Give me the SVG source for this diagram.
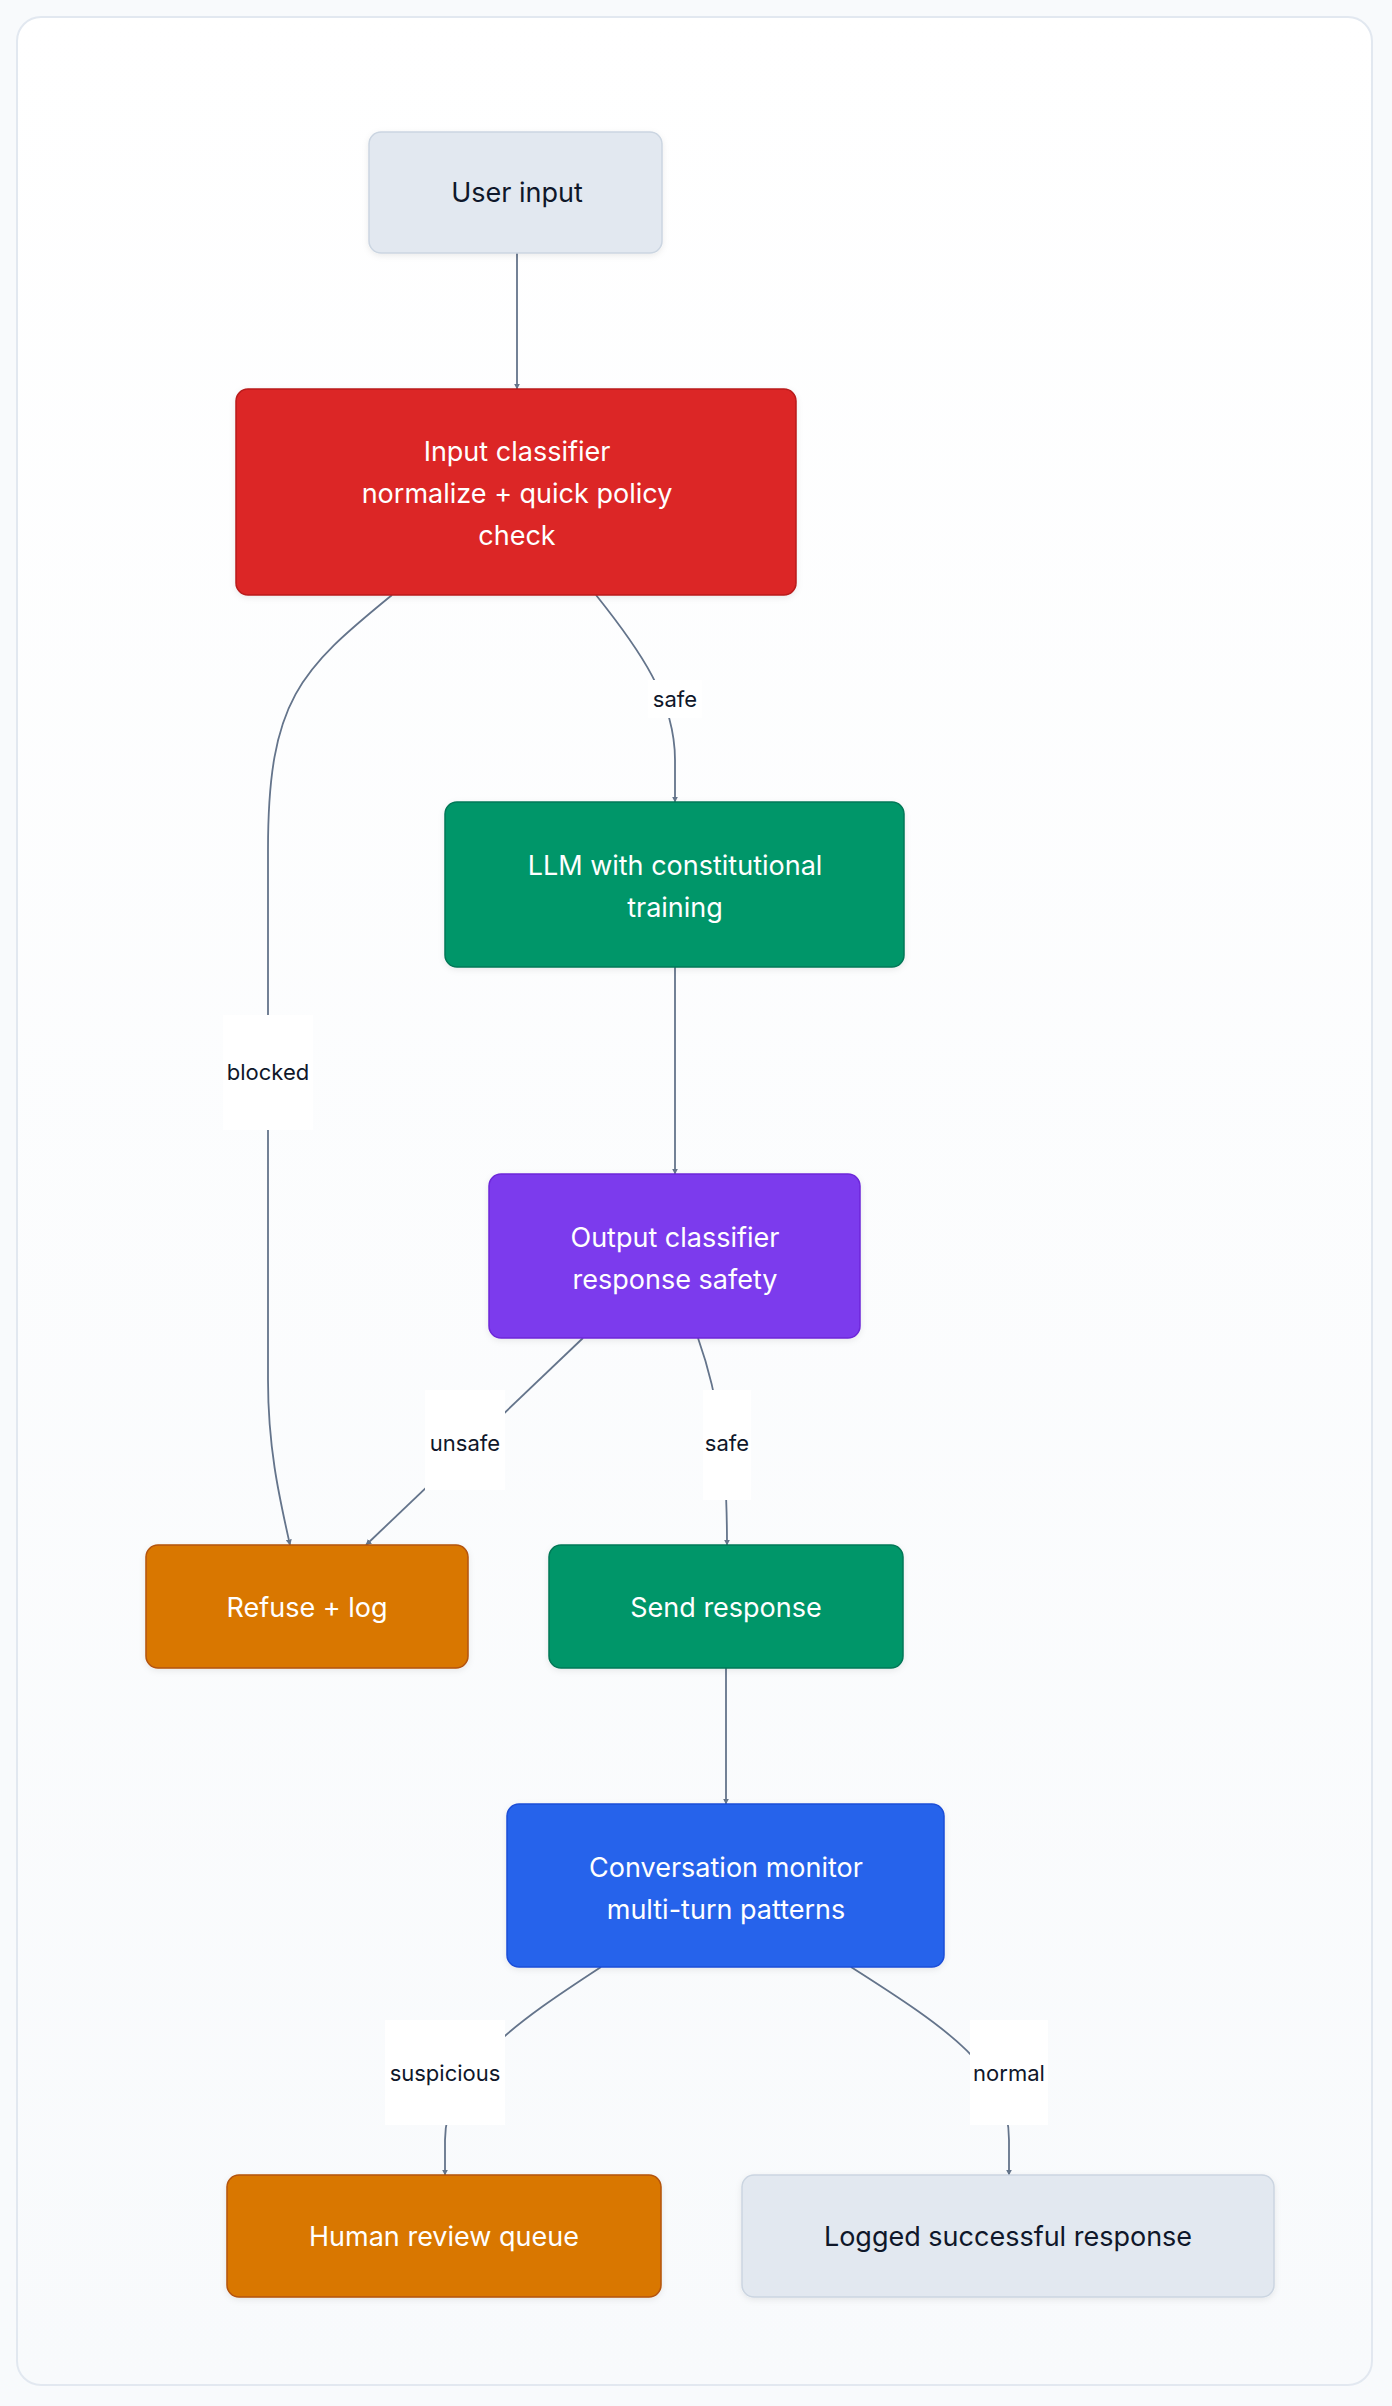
<svg xmlns="http://www.w3.org/2000/svg" width="1392" height="2406" viewBox="0 0 1392 2406">
<defs>
<linearGradient id="bg" x1="0" y1="0" x2="0" y2="1"><stop offset="0" stop-color="#ffffff"/><stop offset="1" stop-color="#f8fafc"/></linearGradient>
<marker id="ah" viewBox="0 0 10 10" refX="9" refY="5" markerWidth="6" markerHeight="6" markerUnits="userSpaceOnUse" orient="auto"><path d="M0,0 L10,5 L0,10 z" fill="#64748b"/></marker>
<filter id="sh" x="-10%" y="-10%" width="120%" height="130%"><feDropShadow dx="0" dy="2" stdDeviation="3" flood-color="#0f172a" flood-opacity="0.08"/></filter>
</defs>
<style>
.n{stroke-width:1.5;filter:url(#sh)}
.t{font-family:Inter,"Liberation Sans",sans-serif;font-size:27px;fill:#ffffff;text-anchor:middle}
.d{fill:#0f172a}
.e{fill:none;stroke:#64748b;stroke-width:1.8;marker-end:url(#ah)}
.l{font-family:Inter,"Liberation Sans",sans-serif;font-size:22px;fill:#0f172a;text-anchor:middle}
.lb{fill:#ffffff}
</style>
<rect x="0" y="0" width="1392" height="2406" fill="#f8fafc"/>
<rect x="17" y="17" width="1355" height="2368" rx="24" fill="url(#bg)" stroke="#e2e8f0" stroke-width="2"/>
<g id="edges">
<path class="e" d="M517,253 L517,389" style="marker-end:url(#ah)"/>
<path class="e" d="M596,595 C640,650 675,700 675,760 L675,802"/>
<path class="e" d="M392,595 C300,670 268,700 268,850 L268,1380 C268,1450 280,1500 290,1545"/>
<path class="e" d="M675,967 L675,1174"/>
<path class="e" d="M583,1338 L366,1545"/>
<path class="e" d="M698,1338 C720,1400 727,1460 727,1545"/>
<path class="e" d="M726,1668 L726,1804"/>
<path class="e" d="M601,1967 C520,2020 445,2070 445,2140 L445,2175"/>
<path class="e" d="M851,1967 C950,2030 1009,2070 1009,2140 L1009,2175"/>
<rect class="lb" x="648" y="680" width="54" height="38"/><text class="l" x="675" y="707">safe</text>
<rect class="lb" x="223" y="1015" width="90" height="115"/><text class="l" x="268" y="1080">blocked</text>
<rect class="lb" x="425" y="1390" width="80" height="100"/><text class="l" x="465" y="1451">unsafe</text>
<rect class="lb" x="703" y="1390" width="48" height="110"/><text class="l" x="727" y="1451">safe</text>
<rect class="lb" x="385" y="2020" width="120" height="105"/><text class="l" x="445" y="2081">suspicious</text>
<rect class="lb" x="970" y="2020" width="78" height="105"/><text class="l" x="1009" y="2081">normal</text>
</g>
<g id="user-input"><rect class="n" x="369" y="132" width="293" height="121" rx="12" fill="#e2e8f0" stroke="#cbd5e1"/><text class="t d" x="517" y="202">User input</text></g>
<g id="input-classifier"><rect class="n" x="236" y="389" width="560" height="206" rx="12" fill="#dc2626" stroke="#b91c1c"/><text class="t" x="517" y="461">Input classifier</text><text class="t" x="517" y="503">normalize + quick policy</text><text class="t" x="517" y="545">check</text></g>
<g id="llm"><rect class="n" x="445" y="802" width="459" height="165" rx="12" fill="#059669" stroke="#047857"/><text class="t" x="675" y="875">LLM with constitutional</text><text class="t" x="675" y="917">training</text></g>
<g id="output-classifier"><rect class="n" x="489" y="1174" width="371" height="164" rx="12" fill="#7c3aed" stroke="#6d28d9"/><text class="t" x="675" y="1247">Output classifier</text><text class="t" x="675" y="1289">response safety</text></g>
<g id="refuse"><rect class="n" x="146" y="1545" width="322" height="123" rx="12" fill="#d97706" stroke="#b45309"/><text class="t" x="307" y="1617">Refuse + log</text></g>
<g id="send"><rect class="n" x="549" y="1545" width="354" height="123" rx="12" fill="#059669" stroke="#047857"/><text class="t" x="726" y="1617">Send response</text></g>
<g id="monitor"><rect class="n" x="507" y="1804" width="437" height="163" rx="12" fill="#2563eb" stroke="#1d4ed8"/><text class="t" x="726" y="1877">Conversation monitor</text><text class="t" x="726" y="1919">multi-turn patterns</text></g>
<g id="human-review"><rect class="n" x="227" y="2175" width="434" height="122" rx="12" fill="#d97706" stroke="#b45309"/><text class="t" x="444" y="2246">Human review queue</text></g>
<g id="logged"><rect class="n" x="742" y="2175" width="532" height="122" rx="12" fill="#e2e8f0" stroke="#cbd5e1"/><text class="t d" x="1008" y="2246">Logged successful response</text></g>
</svg>
